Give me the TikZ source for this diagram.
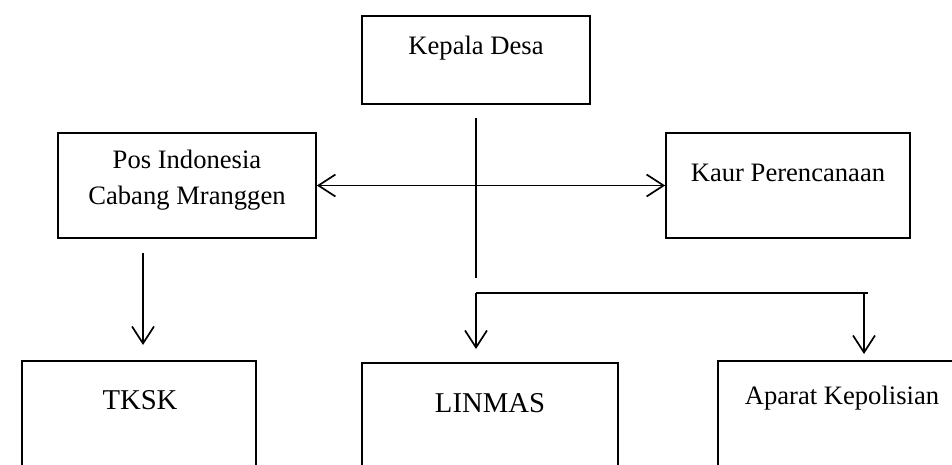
\documentclass[tikz,border=0pt]{standalone}
\usepackage{fontspec}
\setmainfont{Liberation Serif}
\usetikzlibrary{arrows.meta}
\begin{document}
\begin{tikzpicture}[x=1pt,y=-1pt,
  box/.style={draw, line width=1.7pt, rectangle, inner sep=0pt},
  lbl/.style={font=\fontsize{26.6}{36}\selectfont, align=center, inner sep=0pt},
  biglbl/.style={font=\fontsize{28.7}{34}\selectfont, inner sep=0pt},
  conn/.style={line width=1.7pt},
  tip/.style={Straight Barb[length=17pt, width=22pt, line width=1.7pt]},
  arr/.style={conn, -{Straight Barb[length=17pt, width=22pt, line width=1.7pt]}},
  darr/.style={conn, {Straight Barb[length=17pt, width=22pt, line width=1.7pt]}-{Straight Barb[length=17pt, width=22pt, line width=1.7pt]}}]
\useasboundingbox (0,0) rectangle (952,464);
\clip (0,0) rectangle (952,464);

% boxes
\node[box, minimum width=228pt, minimum height=88pt] (kades) at (476,60) {};
\node[box, minimum width=258pt, minimum height=105pt] (pos) at (187,185.5) {};
\node[box, minimum width=244pt, minimum height=105pt] (kaur) at (788,185.5) {};
\node[box, minimum width=234pt, minimum height=140pt] (tksk) at (139,431) {};
\node[box, minimum width=256pt, minimum height=140pt] (linmas) at (490,433) {};
\node[box, minimum width=262pt, minimum height=140pt] (polisi) at (849,431) {};

% labels
\node[lbl] (tkades) at (476,48) {Kepala Desa};
\node[lbl] (tpos) at (187,180) {Pos Indonesia\\Cabang Mranggen};
\node[lbl] (tkaur) at (788,173) {Kaur Perencanaan};
\node[biglbl] (ttksk) at (140,400) {TKSK};
\node[biglbl] (tlinmas) at (490,403) {LINMAS};
\node[lbl] (tpolisi) at (842,398) {Aparat Kepolisian};

% connector points
\coordinate (vtop) at (476,118);
\coordinate (vbot) at (476,278);
\coordinate (hl) at (476,293);
\coordinate (hr) at (868,293);
\coordinate (hrs) at (864,293);
\coordinate (dl) at (476,349);
\coordinate (dr) at (864,354);
\coordinate (ptop) at (143,253);
\coordinate (pbot) at (143,345);

% connectors
\draw[conn] (vtop) -- (vbot);
\draw[darr] (pos.east) -- (kaur.west);
\draw[conn] (hl) -- (hr);
\draw[arr] (hl) -- (dl);
\draw[arr] (hrs) -- (dr);
\draw[arr] (ptop) -- (pbot);
\end{tikzpicture}
\end{document}
